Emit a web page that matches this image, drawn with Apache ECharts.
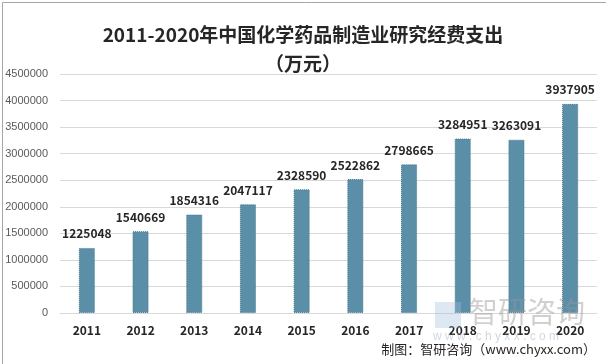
<!DOCTYPE html>
<html><head><meta charset="utf-8">
<script src="https://cdn.jsdelivr.net/npm/echarts@6/dist/echarts.min.js"></script>
<style>html,body{margin:0;padding:0;background:#fff}#c{width:606px;height:364px}</style>
</head><body><div id="c"></div>
<script>
var categories = ['2011','2012','2013','2014','2015','2016','2017','2018','2019','2020'];
var values = [1225048,1540669,1854316,2047117,2328590,2522862,2798665,3284951,3263091,3937905];
var yTicks = [0,500000,1000000,1500000,2000000,2500000,3000000,3500000,4000000,4500000];

var chart = echarts.init(document.getElementById('c'));
chart.setOption({
  backgroundColor:'#fff',
  animation:false,
  title:{
    text:'2011-2020年中国化学药品制造业研究经费支出\n（万元）',
    left:'center', top:15,
    textStyle:{fontFamily:'Noto Sans CJK SC',fontSize:19,fontWeight:'bold',color:'#262626',lineHeight:29}
  },
  grid:{left:60,right:9,top:74,bottom:51},
  xAxis:{
    type:'category', data:categories,
    axisLine:{lineStyle:{color:'#d9d9d9'}},
    axisTick:{show:false},
    axisLabel:{fontFamily:'Noto Sans CJK SC',fontSize:12,fontWeight:'bold',color:'#262626',margin:11}
  },
  yAxis:{
    type:'value', min:yTicks[0], max:yTicks[yTicks.length-1], interval:500000,
    axisLine:{show:false}, axisTick:{show:false},
    splitLine:{lineStyle:{color:'#d9d9d9'}},
    axisLabel:{fontFamily:'Liberation Sans',fontSize:11,color:'#595959',margin:12,formatter:function(v){return String(v);}}
  },
  series:[{
    type:'bar', data:values, barWidth:'30%',
    itemStyle:{color:'#5b8fa8',borderColor:'#4a7a92',borderWidth:1,borderType:'dotted'},
    label:{show:true,position:'top',distance:8,fontFamily:'Noto Sans CJK SC',fontSize:12,fontWeight:'bold',color:'#262626'}
  }],
  graphic:[
    {type:'rect',left:0,top:0,shape:{width:605,height:363},style:{fill:'none',stroke:'#a6a6a6',lineWidth:1},silent:true},
    {type:'rect',left:435,top:302,z:100,shape:{width:26,height:26},style:{fill:'rgba(160,190,220,0.35)'}},
    {type:'text',left:469,top:297,z:100,style:{text:'智研咨询',font:'29px "Noto Sans CJK SC"',fill:'rgba(150,150,150,0.45)'}},
    {type:'text',left:433,top:331,z:100,style:{text:'w w w . c h y x x . c o m',font:'12px "Liberation Sans"',fill:'rgba(160,180,200,0.5)'}},
    {type:'text',right:10,top:343,z:100,style:{text:'制图：智研咨询（www.chyxx.com）',font:'13px "Noto Sans CJK SC"',fill:'#262626'}}
  ]
});
</script></body></html>
